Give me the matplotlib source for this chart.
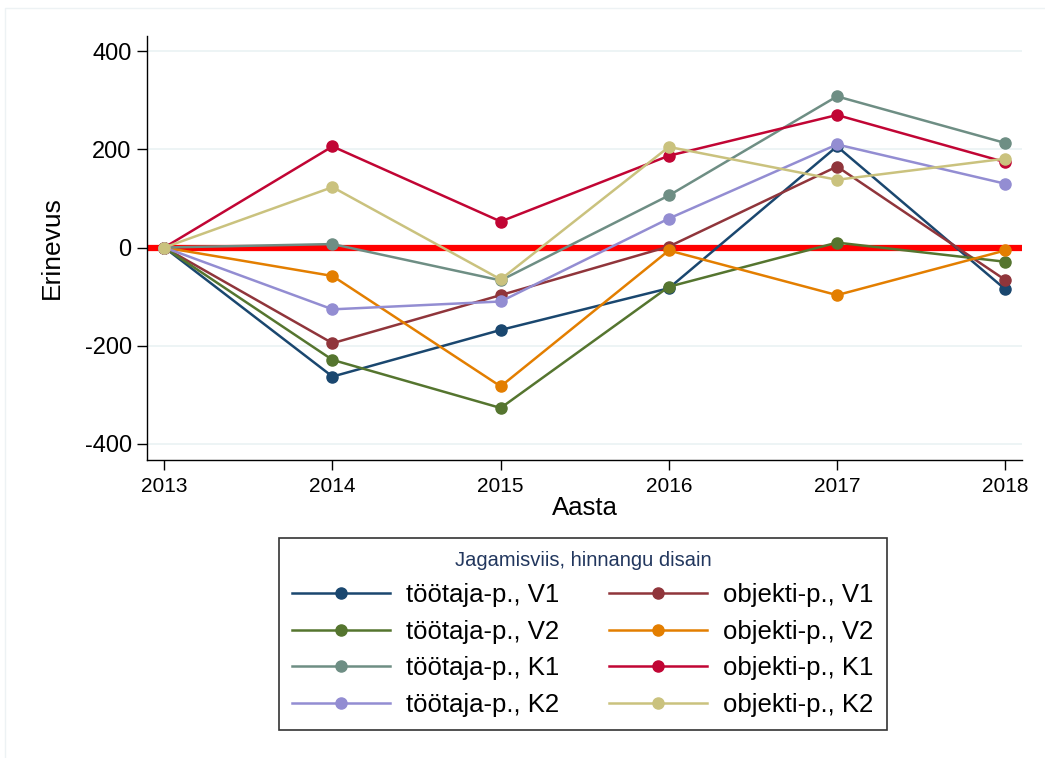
#!/usr/bin/env python3
"""Erinevus by year, eight split/design series (Stata s2color look)."""

import matplotlib
matplotlib.use("Agg")
import matplotlib.pyplot as plt
from matplotlib.patches import Rectangle

plt.rcParams["font.family"] = ["Liberation Sans", "DejaVu Sans"]

years = [2013, 2014, 2015, 2016, 2017, 2018]

# drawing order follows the legend row by row
series_names = [
    "töötaja-p., V1", "objekti-p., V1",
    "töötaja-p., V2", "objekti-p., V2",
    "töötaja-p., K1", "objekti-p., K1",
    "töötaja-p., K2", "objekti-p., K2",
]
tootaja_v1 = [0, -263, -168, -83, 206, -85]
objekti_v1 = [0, -195, -97, 2, 165, -66]
tootaja_v2 = [0, -229, -327, -80, 10, -29]
objekti_v2 = [0, -58, -283, -6, -97, -6]
tootaja_k1 = [0, 7, -67, 106, 308, 213]
objekti_k1 = [0, 206, 53, 187, 270, 174]
tootaja_k2 = [0, -126, -110, 59, 210, 130]
objekti_k2 = [0, 123, -65, 205, 138, 181]
series_values = [tootaja_v1, objekti_v1, tootaja_v2, objekti_v2,
                 tootaja_k1, objekti_k1, tootaja_k2, objekti_k2]
colors = ["#1a476f", "#90353b", "#55752f", "#e37e00",
          "#6e8e84", "#c10534", "#938dd2", "#cac27e"]

y_ticks = [-400, -200, 0, 200, 400]

fig = plt.figure(figsize=(10.45, 7.58), dpi=100)

# faint graph-region outline
fig.patches.append(Rectangle((5 / 1045, -0.01), 1.02, 1 - 8 / 758 + 0.01,
                             transform=fig.transFigure, fill=False,
                             edgecolor="#edf2f4", lw=1.0))

ax = fig.add_axes([147 / 1045, 1 - 460 / 758, 875 / 1045, 424 / 758])

ax.axhline(0, color="#ff0000", lw=4.5, zorder=2)

handles = []
for name, vals, col in zip(series_names, series_values, colors):
    (h,) = ax.plot(years, vals, color=col, lw=1.8, marker="o", ms=8,
                   label=name, zorder=3)
    handles.append(h)

ax.set_xlim(2012.897, 2018.10)
ax.set_ylim(-433, 431)
ax.set_yticks(y_ticks)
ax.set_yticklabels([str(v) for v in y_ticks], fontsize=17)
ax.set_xticks(years)
ax.set_xticklabels([str(y) for y in years], fontsize=15)
ax.tick_params(axis="y", length=7, width=1, pad=4)
ax.tick_params(axis="x", length=7, width=1, pad=5)
ax.grid(axis="y", color="#eaf2f3", lw=1.2, zorder=0)
ax.set_axisbelow(True)
for side in ["top", "right"]:
    ax.spines[side].set_visible(False)
for side in ["left", "bottom"]:
    ax.spines[side].set_linewidth(1)
ax.set_ylabel("Erinevus", fontsize=19, labelpad=15)
ax.set_xlabel("Aasta", fontsize=18.5, labelpad=0)

# matplotlib fills legend columns first: töötaja left, objekti right
order = [0, 2, 4, 6, 1, 3, 5, 7]
leg = fig.legend([handles[i] for i in order], [series_names[i] for i in order],
                 ncol=2, loc="center", bbox_to_anchor=(583 / 1045, 1 - 634 / 758),
                 fontsize=18.5, title="Jagamisviis, hinnangu disain",
                 title_fontsize=14.5, frameon=True, fancybox=False,
                 edgecolor="black", handlelength=3.8, columnspacing=1.95,
                 labelspacing=0.5, borderpad=0.5, handletextpad=0.63)
leg.get_title().set_color("#22375e")
leg.get_frame().set_linewidth(1.2)

fig.savefig("out.png", dpi=100, facecolor="white")
